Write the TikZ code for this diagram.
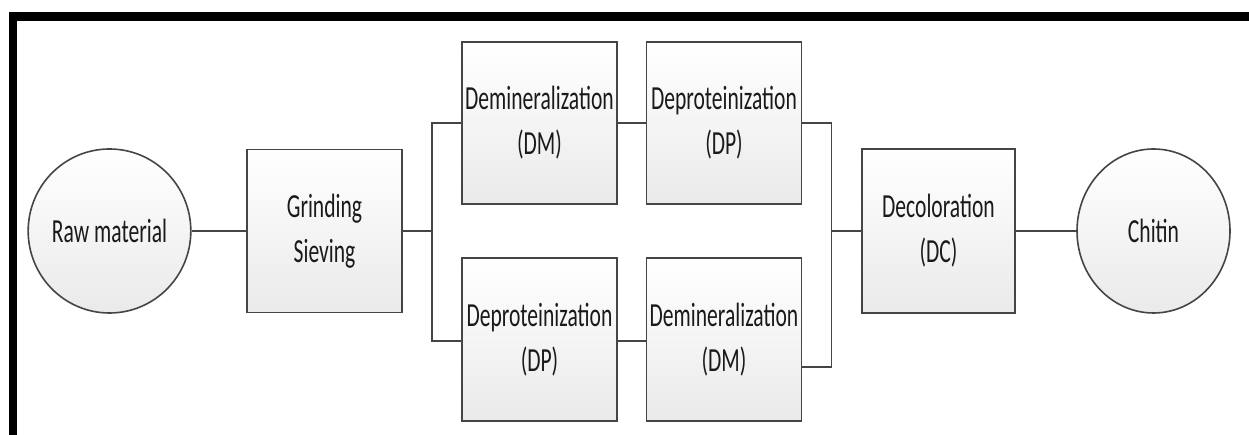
\documentclass[tikz,border=0pt]{standalone}
\usepackage{fontspec}
\newfontfamily\labfont[FakeStretch=0.64]{Carlito}
\usetikzlibrary{shapes.geometric,calc}
\definecolor{edge}{HTML}{454545}
\definecolor{ink}{HTML}{1A1A1A}
\definecolor{shadebottom}{HTML}{EAEAEA}
\tikzset{
  stage/.style={draw=edge, line width=1.6pt, rectangle, minimum width=155pt,
    minimum height=163pt, inner sep=0pt, shading=axis, top color=white,
    bottom color=shadebottom, align=center, text=ink,
    font=\labfont\fontsize{33.7}{45}\selectfont},
  terminal/.style={stage, ellipse, minimum width=155pt, minimum height=164pt},
  link/.style={draw=edge, line width=1.6pt}
}
\begin{document}
\begin{tikzpicture}[x=1pt,y=1pt]
\useasboundingbox (0,0) rectangle (1249,435);
\fill[white] (0,0) rectangle (1249,435);
% frame on the top and left
\draw[line width=8.4pt, miter limit=10] (13,0) -- (13,418.5) -- (1249,418.5);

\node[terminal] (raw) at (109.5,204) {Raw material};
\node[stage] (grind) at (324.5,204) {Grinding\\Sieving};
\node[stage, minimum height=162pt] (dm1) at (539.5,312) {Demineralization\\(DM)};
\node[stage, minimum height=162pt] (dp1) at (724,312) {Deproteinization\\(DP)};
\node[stage] (dp2) at (539.5,95.5) {Deproteinization\\(DP)};
\node[stage] (dm2) at (724,95.5) {Demineralization\\(DM)};
\node[stage, minimum width=153pt, minimum height=164pt] (dc) at (938.5,204) {Decoloration\\(DC)};
\node[terminal, minimum width=153pt] (chitin) at (1153.5,204) {Chitin};

\coordinate (jL) at (432,204);
\coordinate (jR) at (831.5,204);

\draw[link] (raw.east) -- (grind.west);
\draw[link] (grind.east) -- (jL);
\draw[link] (dm1.west) -| (jL) |- ([yshift=-1.5pt]dp2.west);
\draw[link] (dm1.east) -- (dp1.west);
\draw[link] ([yshift=-1.5pt]dp2.east) -- ([yshift=-1.5pt]dm2.west);
\draw[link] (dp1.east) -| (jR) |- ([yshift=-27.5pt]dm2.east);
\draw[link] (jR) -- (dc.west);
\draw[link] (dc.east) -- (chitin.west);
\end{tikzpicture}
\end{document}
